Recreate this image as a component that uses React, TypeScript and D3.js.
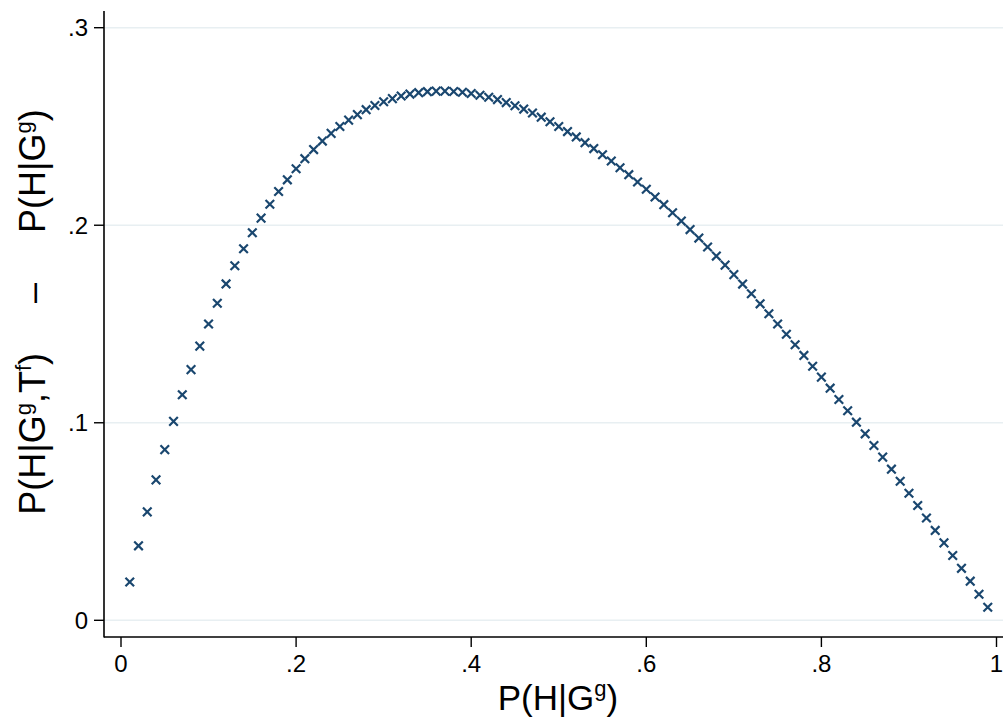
import React from "react";
import * as d3 from "d3";

const xValues: number[] = [
  0.01, 0.02, 0.03, 0.04, 0.05, 0.06, 0.07, 0.08, 0.09, 0.10,
  0.11, 0.12, 0.13, 0.14, 0.15, 0.16, 0.17, 0.18, 0.19, 0.20,
  0.21, 0.22, 0.23, 0.24, 0.25, 0.26, 0.27, 0.28, 0.29, 0.30,
  0.31, 0.32, 0.33, 0.34, 0.35, 0.36, 0.37, 0.38, 0.39, 0.40,
  0.41, 0.42, 0.43, 0.44, 0.45, 0.46, 0.47, 0.48, 0.49, 0.50,
  0.51, 0.52, 0.53, 0.54, 0.55, 0.56, 0.57, 0.58, 0.59, 0.60,
  0.61, 0.62, 0.63, 0.64, 0.65, 0.66, 0.67, 0.68, 0.69, 0.70,
  0.71, 0.72, 0.73, 0.74, 0.75, 0.76, 0.77, 0.78, 0.79, 0.80,
  0.81, 0.82, 0.83, 0.84, 0.85, 0.86, 0.87, 0.88, 0.89, 0.90,
  0.91, 0.92, 0.93, 0.94, 0.95, 0.96, 0.97, 0.98, 0.99,
];

const yValues: number[] = [
  0.0194, 0.0377, 0.0549, 0.0711, 0.0864, 0.1007, 0.1142, 0.1269, 0.1388, 0.1500,
  0.1605, 0.1703, 0.1795, 0.1881, 0.1962, 0.2036, 0.2106, 0.2171, 0.2230, 0.2286,
  0.2337, 0.2383, 0.2426, 0.2465, 0.2500, 0.2532, 0.2560, 0.2585, 0.2606, 0.2625,
  0.2641, 0.2654, 0.2664, 0.2671, 0.2676, 0.2679, 0.2679, 0.2677, 0.2673, 0.2667,
  0.2658, 0.2648, 0.2636, 0.2621, 0.2605, 0.2588, 0.2568, 0.2547, 0.2524, 0.2500,
  0.2474, 0.2447, 0.2418, 0.2388, 0.2357, 0.2325, 0.2291, 0.2256, 0.2219, 0.2182,
  0.2143, 0.2104, 0.2063, 0.2021, 0.1978, 0.1935, 0.1890, 0.1844, 0.1798, 0.1750,
  0.1702, 0.1653, 0.1602, 0.1552, 0.1500, 0.1448, 0.1395, 0.1341, 0.1286, 0.1231,
  0.1175, 0.1118, 0.1061, 0.1003, 0.0944, 0.0885, 0.0826, 0.0765, 0.0704, 0.0643,
  0.0581, 0.0518, 0.0455, 0.0392, 0.0328, 0.0263, 0.0198, 0.0132, 0.0066,
];

const xTicks: number[] = [0, 0.2, 0.4, 0.6, 0.8, 1];
const xTickLabels: string[] = ["0", ".2", ".4", ".6", ".8", "1"];
const yTicks: number[] = [0, 0.1, 0.2, 0.3];
const yTickLabels: string[] = ["0", ".1", ".2", ".3"];

const W = 1003;
const H = 719;
const FONT = "'Liberation Sans', Arial, Helvetica, sans-serif";
const NAVY = "#1a476f";
const GRID = "#e8eff2";

export default function App() {
  const x = d3.scaleLinear().domain([0, 1]).range([121, 996.5]);
  const y = d3.scaleLinear().domain([0, 0.3]).range([620.3, 27.7]);
  const axisX = 104;
  const axisY = 637;
  const m = 4.3;

  const points = xValues.map((xv, i) => ({ x: x(xv), y: y(yValues[i]) }));

  return (
    <svg
      width={W}
      height={H}
      style={{ position: "absolute", left: 0, top: 0, background: "#fff" }}
      fontFamily={FONT}
    >
      <rect x={0} y={0} width={W} height={H} fill="#fff" />
      {yTicks.map((t) => (
        <line key={"g" + t} x1={axisX + 1} x2={W} y1={y(t)} y2={y(t)} stroke={GRID} strokeWidth={1.6} />
      ))}
      {points.map((p, i) => (
        <path
          key={i}
          d={`M${p.x - m},${p.y - m}L${p.x + m},${p.y + m}M${p.x - m},${p.y + m}L${p.x + m},${p.y - m}`}
          stroke={NAVY}
          strokeWidth={2.2}
          fill="none"
        />
      ))}
      <line x1={axisX} x2={axisX} y1={11} y2={axisY + 0.5} stroke="#000" strokeWidth={1.6} />
      <line x1={axisX} x2={W} y1={axisY} y2={axisY} stroke="#000" strokeWidth={1.6} />
      {yTicks.map((t, i) => (
        <g key={"yt" + t}>
          <line x1={axisX - 10} x2={axisX} y1={y(t)} y2={y(t)} stroke="#000" strokeWidth={1.4} />
          <text x={axisX - 16} y={y(t)} dy="0.36em" textAnchor="end" fontSize={24} fill="#000">
            {yTickLabels[i]}
          </text>
        </g>
      ))}
      {xTicks.map((t, i) => (
        <g key={"xt" + t}>
          <line x1={x(t)} x2={x(t)} y1={axisY} y2={axisY + 10} stroke="#000" strokeWidth={1.4} />
          <text x={x(t)} y={axisY + 35} textAnchor="middle" fontSize={24} fill="#000">
            {xTickLabels[i]}
          </text>
        </g>
      ))}
      <text x={558} y={710} textAnchor="middle" fontSize={35} fill="#000">
        P(H|G<tspan dy={-14} fontSize={22}>g</tspan><tspan dy={14}>)</tspan>
      </text>
      <text
        transform={`translate(45,${312}) rotate(-90)`}
        textAnchor="middle"
        fontSize={36}
        fill="#000"
        xmlSpace="preserve"
      >
        P(H|G<tspan dy={-14} fontSize={22}>g</tspan><tspan dy={14}>,T</tspan>
        <tspan dy={-14} fontSize={22}>f</tspan>
        <tspan dy={14}>)     –     P(H|G</tspan>
        <tspan dy={-14} fontSize={22}>g</tspan>
        <tspan dy={14}>)</tspan>
      </text>
    </svg>
  );
}
